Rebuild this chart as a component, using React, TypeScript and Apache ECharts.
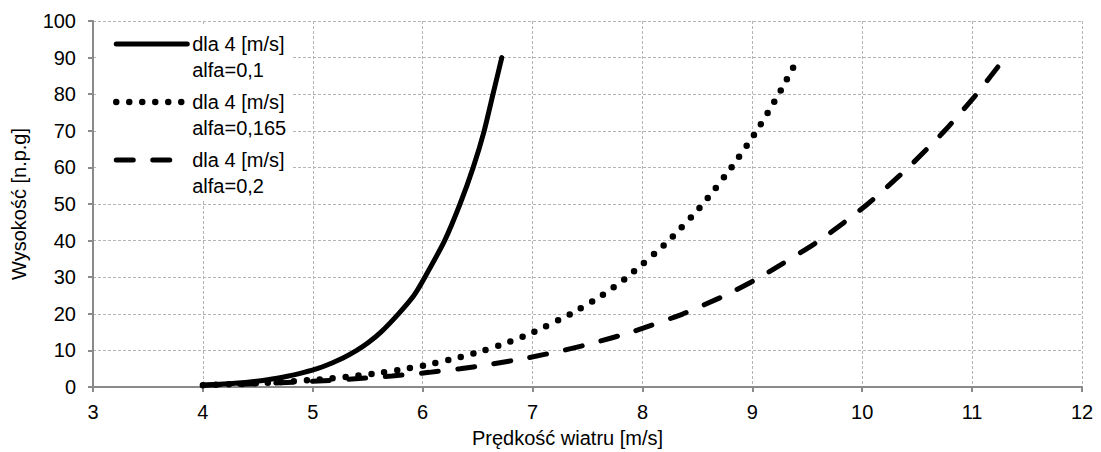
import React, { useEffect, useRef } from "react";
import * as echarts from "echarts";

const heights = [0.5, 1, 2, 3, 4, 5, 6, 8, 10, 12, 15, 20, 25, 30, 40, 50, 60, 70, 80, 90];
const speedAlfa010 = [4.0, 4.29, 4.59, 4.78, 4.92, 5.04, 5.13, 5.28, 5.4, 5.5, 5.62, 5.78, 5.92, 6.02, 6.2, 6.34, 6.46, 6.56, 6.64, 6.72];
const speedAlfa0165 = [4.0, 4.48, 5.03, 5.38, 5.64, 5.85, 6.03, 6.32, 6.56, 6.76, 7.01, 7.35, 7.63, 7.86, 8.24, 8.55, 8.81, 9.04, 9.24, 9.42];
const speedAlfa020 = [4.0, 4.59, 5.28, 5.72, 6.06, 6.34, 6.58, 6.96, 7.28, 7.55, 7.9, 8.37, 8.75, 9.07, 9.61, 10.05, 10.42, 10.75, 11.04, 11.3];
const seriesNames = ["dla 4 [m/s]\nalfa=0,1", "dla 4 [m/s]\nalfa=0,165", "dla 4 [m/s]\nalfa=0,2"];
const xAxisTitle = "Prędkość wiatru [m/s]";
const yAxisTitle = "Wysokość [n.p.g]";

const FONT = "'Liberation Sans', Arial, sans-serif";
const AXIS_GRAY = "#8a8a8a";
const GRID_GRAY = "#b4b4b4";

const lineStyles = [
  { color: "#000", width: 5, type: "solid" as any, cap: "round" as const },
  { color: "#000", width: 6.5, type: [0, 13] as any, cap: "round" as const },
  { color: "#000", width: 5, type: [17, 19.5] as any, cap: "round" as const },
];

export default function App() {
  const ref = useRef<HTMLDivElement>(null);
  useEffect(() => {
    if (!ref.current) return;
    const chart = echarts.init(ref.current, null, { renderer: "svg" });
    const speeds = [speedAlfa010, speedAlfa0165, speedAlfa020];
    chart.setOption({
      animation: false,
      backgroundColor: "#fff",
      color: ["#000", "#000", "#000"],
      textStyle: { fontFamily: FONT, color: "#000" },
      grid: { left: 93, right: 19, top: 21, bottom: 65, containLabel: false, outerBoundsMode: "none" },
      xAxis: {
        type: "value",
        min: 3,
        max: 12,
        interval: 1,
        name: xAxisTitle,
        nameLocation: "middle",
        nameGap: 41,
        nameTextStyle: { fontSize: 20, color: "#000", fontFamily: FONT, padding: [0, 40, 0, 0] },
        axisLine: { show: true, lineStyle: { color: AXIS_GRAY, width: 2 } },
        axisTick: { show: true, inside: false, length: 5, lineStyle: { color: AXIS_GRAY, width: 2 } },
        axisLabel: { fontSize: 20, color: "#000", margin: 15, fontFamily: FONT },
        splitLine: { show: true, lineStyle: { color: GRID_GRAY, width: 1, type: [3, 2] } },
      },
      yAxis: {
        type: "value",
        min: 0,
        max: 100,
        interval: 10,
        name: yAxisTitle,
        nameLocation: "middle",
        nameGap: 64,
        nameRotate: 90,
        nameTextStyle: { fontSize: 20, color: "#000", fontFamily: FONT },
        axisLine: { show: true, lineStyle: { color: AXIS_GRAY, width: 2 } },
        axisTick: { show: true, inside: false, length: 5, lineStyle: { color: AXIS_GRAY, width: 2 } },
        axisLabel: { fontSize: 20, color: "#000", margin: 17, fontFamily: FONT },
        splitLine: { show: true, lineStyle: { color: GRID_GRAY, width: 1, type: [3, 2] } },
      },
      graphic: [
        {
          type: "rect",
          z: 1,
          shape: { x: 96, y: 24, width: 197, height: 177 },
          style: { fill: "#fff" },
        },
      ],
      legend: {
        show: true,
        orient: "vertical",
        left: 113,
        top: 5,
        padding: 0,
        itemGap: -20,
        itemWidth: 71,
        itemHeight: 12,
        z: 5,
        formatter: (name: string) => "\n" + name,
        textStyle: { fontSize: 20, lineHeight: 26, color: "#000", fontFamily: FONT },
        data: seriesNames.map((n, i) => ({
          name: n,
          itemStyle: { color: "#000", opacity: 0 },
          lineStyle: { ...lineStyles[i] },
        })),
        selectedMode: false,
      },
      series: seriesNames.map((n, i) => ({
        name: n,
        type: "line",
        data: heights.map((h, j) => [speeds[i][j], h]),
        symbol: "none",
        showSymbol: false,
        smooth: 0.2,
        z: 3,
        itemStyle: { color: "#000" },
        lineStyle: { ...lineStyles[i] },
      })),
    });
    return () => chart.dispose();
  }, []);
  return <div ref={ref} style={{ width: 1101, height: 452, position: "absolute", left: 0, top: 0 }} />;
}
